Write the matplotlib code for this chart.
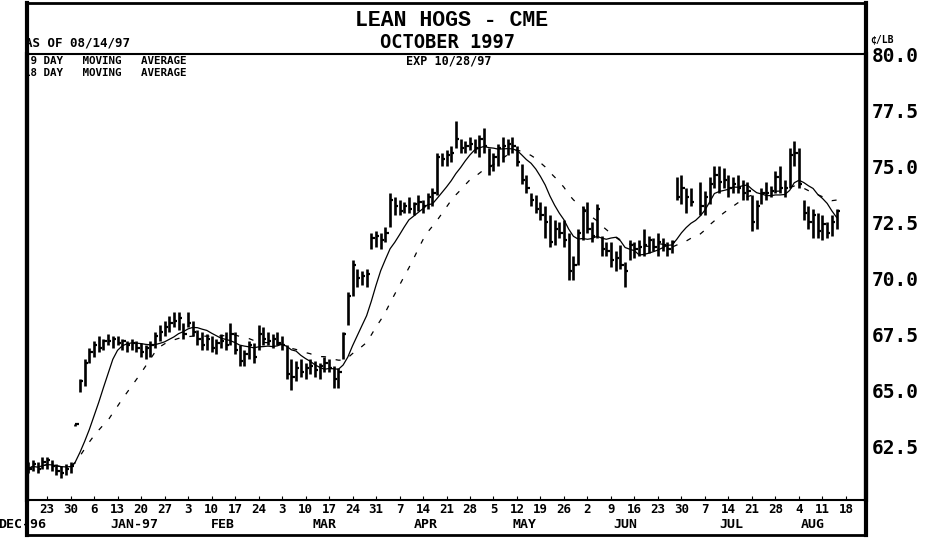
import numpy as np
import pandas as pd
import matplotlib
matplotlib.use("Agg")
import matplotlib.pyplot as plt
from matplotlib.lines import Line2D

# daily bars, first bar = trading-day index -4 (Dec 17 1996); index 0 = Mon Dec 23
START = -4
highs = [61.8, 61.9, 61.8, 62.0,
         62.0, 61.9, 61.7, 61.6, 61.7,
         61.8, 63.5, 65.5, 66.4, 66.9,
         67.2, 67.4, 67.3, 67.5, 67.4,
         67.4, 67.3, 67.2, 67.3, 67.2,
         67.1, 67.0, 67.2, 67.6, 67.9,
         68.1, 68.3, 68.5, 68.5, 68.0,
         68.5, 68.1, 67.7, 67.6, 67.5,
         67.4, 67.3, 67.5, 67.6, 68.0,
         67.6, 67.0, 66.8, 67.2, 67.1,
         67.9, 67.8, 67.6, 67.5, 67.6,
         67.4, 67.0, 66.4, 66.3, 66.4,
         66.2, 66.4, 66.3, 66.2, 66.5,
         66.4, 66.1, 66.0, 67.6, 69.4,
         70.8, 70.4, 70.3, 70.4, 72.0,
         72.1, 72.0, 72.3, 73.8, 73.6,
         73.5, 73.4, 73.6, 73.4, 73.7,
         73.5, 73.8, 74.0, 75.6, 75.6,
         75.7, 75.9, 77.0, 76.2, 76.1,
         76.3, 76.2, 76.4, 76.7, 75.8,
         75.6, 76.0, 76.3, 76.2, 76.3,
         75.9, 75.1, 74.6, 73.8, 73.7,
         73.4, 73.2, 72.8, 72.6, 72.5,
         72.6, 72.0, 71.0, 72.2, 73.2,
         73.4, 72.5, 73.3, 71.9, 71.6,
         71.6, 71.2, 71.5, 70.7, 71.7,
         71.6, 71.7, 72.2, 71.9, 71.8,
         72.0, 71.8, 71.6, 71.7, 74.5,
         74.6, 74.0, 74.0, np.nan, 74.3,
         73.9, 74.5, 75.0, 75.0, 74.9,
         74.6, 74.5, 74.6, 74.4, 74.3,
         73.7, 73.5, 74.0, 74.3, 74.1,
         74.8, 75.0, 74.4, 75.8, 76.1,
         75.8, 73.5, 73.2, 73.1, 72.9,
         72.8, 72.5, 72.8, 73.1]
lows = [61.3, 61.4, 61.3, 61.5,
        61.5, 61.4, 61.2, 61.1, 61.2,
        61.3, 63.4, 64.9, 65.2, 66.2,
        66.5, 66.7, 66.8, 67.0, 66.9,
        67.0, 66.8, 66.7, 66.8, 66.7,
        66.5, 66.4, 66.5, 66.9, 67.2,
        67.4, 67.6, 67.8, 67.7, 67.3,
        67.8, 67.4, 67.0, 66.8, 66.8,
        66.7, 66.6, 66.9, 66.8, 67.0,
        66.6, 66.1, 66.1, 66.4, 66.2,
        66.8, 67.0, 67.0, 66.9, 67.0,
        66.8, 65.5, 65.0, 65.4, 65.6,
        65.5, 65.7, 65.6, 65.5, 65.8,
        65.8, 65.1, 65.1, 66.4, 67.9,
        69.2, 69.6, 69.7, 69.6, 71.3,
        71.4, 71.3, 71.6, 72.3, 72.8,
        72.8, 72.9, 72.9, 72.8, 73.0,
        72.9, 73.1, 73.2, 73.7, 75.0,
        75.0, 75.2, 75.8, 75.6, 75.6,
        75.7, 75.6, 75.4, 75.6, 74.6,
        74.8, 75.0, 75.2, 75.5, 75.6,
        75.0, 74.2, 73.8, 73.2, 72.9,
        72.6, 71.8, 71.4, 71.5, 71.8,
        71.4, 69.9, 69.9, 70.6, 71.7,
        72.0, 71.6, 71.8, 71.0, 71.0,
        70.5, 70.3, 70.4, 69.6, 70.8,
        70.9, 71.0, 71.0, 71.1, 71.2,
        71.0, 71.2, 71.0, 71.1, 73.5,
        73.3, 72.9, 73.2, np.nan, 72.8,
        72.8, 73.3, 74.0, 73.8, 74.0,
        73.6, 73.8, 73.8, 73.5, 73.5,
        72.1, 72.2, 73.3, 73.5, 73.6,
        73.8, 73.8, 73.6, 74.0, 75.0,
        74.0, 72.6, 72.2, 71.8, 71.8,
        71.7, 71.8, 71.9, 72.2]
closes = [61.5, 61.7, 61.5, 61.8,
          61.9, 61.6, 61.4, 61.3, 61.5,
          61.6, 63.5, 65.4, 66.2, 66.7,
          67.0, 66.9, 67.2, 67.2, 67.3,
          67.1, 67.2, 67.0, 67.1, 66.9,
          66.7, 66.9, 67.0, 67.4, 67.6,
          67.8, 68.0, 68.1, 68.2, 67.5,
          68.0, 67.6, 67.3, 67.0, 67.3,
          66.9, 67.1, 67.2, 67.0, 67.5,
          66.8, 66.3, 66.6, 67.0, 66.5,
          67.5, 67.3, 67.2, 67.3, 67.1,
          67.0, 65.7, 65.6, 66.0, 65.8,
          66.0, 66.1, 65.9, 66.1, 66.2,
          66.0, 65.5, 65.8, 67.5, 69.2,
          70.6, 70.0, 70.1, 70.2, 71.8,
          71.9, 71.7, 72.0, 73.5, 73.2,
          73.0, 73.2, 73.1, 73.3, 73.4,
          73.2, 73.6, 73.8, 75.4, 75.3,
          75.5, 75.6, 76.2, 75.8, 75.9,
          76.0, 75.8, 76.2, 75.9, 75.0,
          75.4, 75.8, 75.9, 76.0, 75.9,
          75.2, 74.4, 74.0, 73.5, 73.1,
          72.8, 72.5, 71.6, 72.2, 72.0,
          71.7, 70.3, 70.6, 72.0, 73.0,
          72.2, 71.9, 73.1, 71.3, 71.2,
          70.8, 70.9, 70.6, 70.3, 71.5,
          71.3, 71.4, 71.5, 71.7, 71.4,
          71.6, 71.5, 71.3, 71.6, 73.6,
          74.0, 73.6, 73.4, np.nan, 73.2,
          73.6, 74.2, 74.6, 74.3, 74.4,
          74.0, 74.2, 74.0, 73.8, 73.9,
          72.5, 73.2, 73.8, 73.8, 73.9,
          74.5, 74.0, 74.0, 75.5, 75.6,
          74.2, 72.9, 72.5, 72.8, 72.1,
          72.4, 72.0, 72.5, 73.0]

# weekly (Monday) tick labels, every 5 trading days from index 0
day_labels = ["23", "30", "6", "13", "20", "27", "3", "10", "17", "24",
              "3", "10", "17", "24", "31", "7", "14", "21", "28", "5",
              "12", "19", "26", "2", "9", "16", "23", "30", "7", "14",
              "21", "28", "4", "11", "18"]
month_labels = ["DEC-96", "JAN-97", "FEB", "MAR", "APR", "MAY", "JUN", "JUL", "AUG"]
month_pos = [-5.2, 18.5, 37.5, 59, 80.5, 101.5, 123, 145.5, 163]
price_ticks = [62.5, 65.0, 67.5, 70.0, 72.5, 75.0, 77.5, 80.0]

W, H = 944, 538
L, R, TOP, HDR, BOT, XB = 27, 866, 3, 54, 500, 535


def fx(px):
    return px / W


def fy(py):
    return 1 - py / H


MONO = "DejaVu Sans Mono"
idx = np.arange(START, START + len(closes))
cl = pd.Series(closes)
ma9 = cl.rolling(9, min_periods=1).mean()
ma18 = cl.rolling(18, min_periods=1).mean()

fig = plt.figure(figsize=(W / 100, H / 100), dpi=100)
ax = fig.add_axes([fx(L), fy(BOT), fx(R) - fx(L), fy(HDR) - fy(BOT)])
ax.set_xlim(-4.26, 174.26)
ax.set_ylim(60.1, 80.0)

# price bars: high-low stem + close tick
ax.vlines(idx, lows, highs, color="k", lw=1.9)
ax.hlines(closes, idx, idx + 0.7, color="k", lw=1.6)
ax.plot(idx, ma9, color="k", lw=0.9)
ax.plot(idx, ma18, color="k", lw=0.9, ls=(0, (4, 8)))

for s in ("left", "right"):
    ax.spines[s].set_linewidth(3)
ax.spines["top"].set_linewidth(1.5)
ax.spines["bottom"].set_linewidth(1.5)

ax.yaxis.tick_right()
ax.set_yticks(price_ticks)
ax.set_yticklabels([f"{v:.1f}" for v in price_ticks])
ax.tick_params(axis="y", length=0, pad=4, labelsize=14)
for t in ax.get_yticklabels():
    t.set_fontfamily(MONO)
    t.set_fontweight("bold")

ax.set_xticks(np.arange(0, 5 * len(day_labels), 5))
ax.set_xticklabels(day_labels)
ax.tick_params(axis="x", direction="in", length=3, pad=2, labelsize=9)
for t in ax.get_xticklabels():
    t.set_fontfamily(MONO)
    t.set_fontweight("bold")
for lab, p in zip(month_labels, month_pos):
    ax.text(p, -0.056, lab, transform=ax.get_xaxis_transform(), ha="center",
            va="center", fontsize=9.5, fontweight="bold", family=MONO,
            clip_on=False)

# outer frame
for xs, ys, lw in [([L, L], [TOP, XB], 3), ([R, R], [TOP, XB], 3),
                   ([L, R], [TOP, TOP], 2), ([L, R], [XB, XB], 2)]:
    fig.add_artist(Line2D([fx(x) for x in xs], [fy(y) for y in ys],
                          color="k", lw=lw, transform=fig.transFigure))

fig.text(fx(452), fy(20), "LEAN HOGS - CME", ha="center", va="center",
         fontsize=15.5, fontweight="bold", family="Liberation Mono")
fig.text(fx(447), fy(42), "OCTOBER 1997", ha="center", va="center",
         fontsize=13.5, fontweight="bold", family=MONO)
fig.text(fx(25), fy(43), "AS OF 08/14/97", ha="left", va="center",
         fontsize=9, fontweight="bold", family=MONO)
fig.text(fx(24), fy(61), " 9 DAY   MOVING   AVERAGE", ha="left", va="center",
         fontsize=7.8, fontweight="bold", family=MONO)
fig.text(fx(24), fy(73), "18 DAY   MOVING   AVERAGE", ha="left", va="center",
         fontsize=7.8, fontweight="bold", family=MONO)
fig.text(fx(449), fy(61), "EXP 10/28/97", ha="center", va="center",
         fontsize=8.5, fontweight="bold", family=MONO)
fig.text(fx(870), fy(40), "\u00a2/LB", ha="left", va="center",
         fontsize=7, fontweight="bold", family=MONO)

fig.savefig("out.png", dpi=100)
